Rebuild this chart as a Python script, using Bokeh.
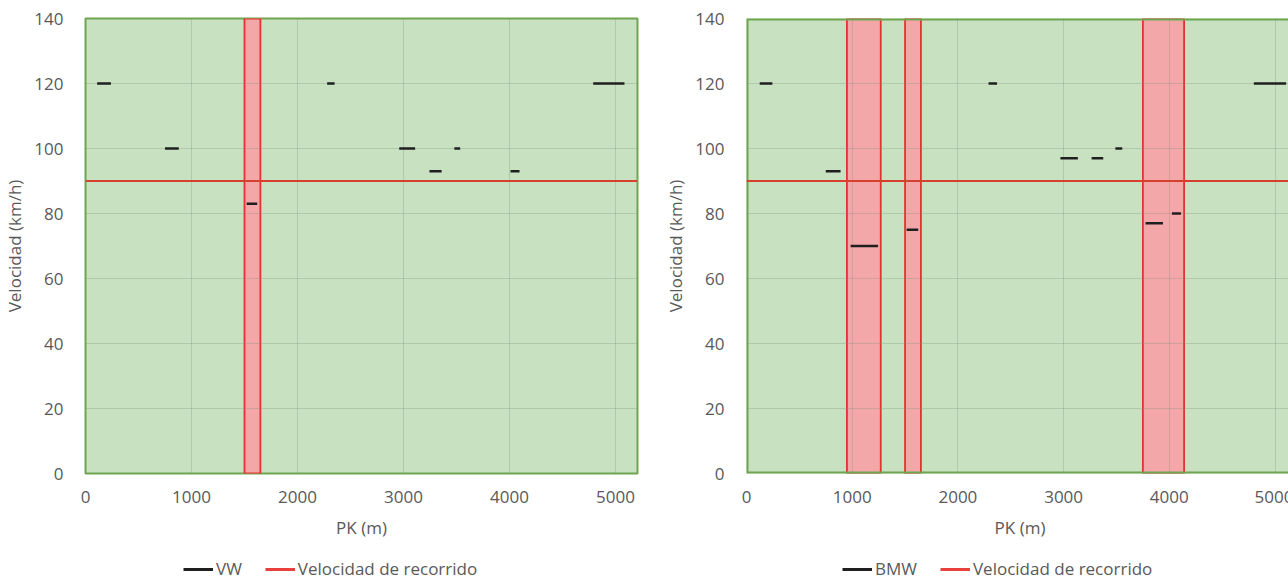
from bokeh.plotting import figure
from bokeh.layouts import row, column
from bokeh.models import Range1d, Legend, LegendItem, SingleIntervalTicker
from bokeh.embed import file_html
from bokeh.resources import INLINE

# ---------------- data ----------------
speed_limit = 90          # Velocidad de recorrido (km/h)
v_max = 140
x_ticks_step = 1000
y_ticks_step = 20

# VW segments: PK start, PK end (m), speed (km/h)
vw_x0 = [110, 750, 1520, 2280, 2960, 3245, 3480, 4010, 4790]
vw_x1 = [240, 880, 1620, 2350, 3110, 3360, 3535, 4095, 5085]
vw_v = [120, 100, 83, 120, 100, 93, 100, 93, 120]
# zones where VW is below the travel speed
vw_zone_start = [1500]
vw_zone_end = [1650]

# BMW segments
bmw_x0 = [125, 750, 985, 1515, 2290, 2970, 3265, 3490, 3775, 4025, 4800]
bmw_x1 = [245, 890, 1245, 1625, 2370, 3135, 3375, 3555, 3940, 4110, 5105]
bmw_v = [120, 93, 70, 75, 120, 97, 97, 100, 77, 80, 120]
bmw_zone_start = [950, 1500, 3750]
bmw_zone_end = [1270, 1650, 4140]

pk_end_left = 5208
pk_end_right = 5175   # right chart is cut by the image border
pk_box_end = 5208

GREEN_BG = "#c8e1c0"
GREEN_LINE = "#6fa552"
RED_FILL = "#f4a7a8"
RED_LINE = "#e5312f"
LIMIT_LINE = "#d5412c"
TXT = "#595959"
FONT = "Open Sans"


def make_fig(x0, x1, v, zs, ze, name, x_end, left_border, frame_w, right_border,
             cropped, legend_x):
    p = figure(frame_width=frame_w, frame_height=455,
               min_border_left=left_border, min_border_right=right_border,
               min_border_top=18, min_border_bottom=72,
               x_range=Range1d(0, x_end), y_range=Range1d(0, v_max),
               output_backend="svg", toolbar_location=None)
    p.background_fill_color = GREEN_BG
    p.border_fill_color = "white"
    if cropped:
        p.outline_line_color = None
    else:
        p.outline_line_color = GREEN_LINE
        p.outline_line_width = 2

    # red zones (below grid)
    p.quad(left=zs, right=ze, bottom=0, top=v_max, fill_color=RED_FILL,
           line_color=RED_LINE, line_width=1.8, level="image")
    if cropped:
        p.quad(left=0, right=pk_box_end, bottom=0, top=v_max, fill_color=None,
               line_color=GREEN_LINE, line_width=4, level="image")

    for g in (p.xgrid, p.ygrid):
        g.grid_line_color = "#7f8f7a"
        g.grid_line_alpha = 0.3
        g.grid_line_width = 1
    p.xaxis.ticker = SingleIntervalTicker(interval=x_ticks_step)
    p.yaxis.ticker = SingleIntervalTicker(interval=y_ticks_step)

    p.segment(x0=0, x1=pk_box_end, y0=speed_limit, y1=speed_limit,
              line_color=LIMIT_LINE, line_width=2.2)
    p.segment(x0=x0, x1=x1, y0=v, y1=v, line_color="#1f1f1f", line_width=2.6)

    for ax in (p.xaxis, p.yaxis):
        ax.axis_line_color = None
        ax.major_tick_line_color = None
        ax.minor_tick_line_color = None
        ax.major_label_text_font = FONT
        ax.major_label_text_font_size = "17px"
        ax.major_label_text_color = TXT
        ax.axis_label_text_font = FONT
        ax.axis_label_text_font_size = "17px"
        ax.axis_label_text_font_style = "normal"
        ax.axis_label_text_color = TXT
    p.xaxis.axis_label = "PK (m)"
    p.yaxis.axis_label = "Velocidad (km/h)"
    p.xaxis.major_label_standoff = 11
    p.xaxis.axis_label_standoff = 10
    p.yaxis.major_label_standoff = 16
    p.yaxis.axis_label_standoff = 5

    # legend strip below the chart (its frame is aligned with the chart frame)
    lf = figure(width=left_border + frame_w + right_border, height=35,
                x_range=Range1d(0, 1), y_range=Range1d(0, 1),
                min_border=0, x_axis_location=None, y_axis_location=None,
                output_backend="svg", toolbar_location=None)
    lf.outline_line_color = None
    lf.grid.visible = False
    # proxy renderers carrying the series data (they fall outside this strip's range)
    leg_black = lf.line(x=x0, y=v, line_color="#1f1f1f", line_width=3)
    leg_red = lf.line(x=[0, pk_box_end], y=[speed_limit, speed_limit],
                      line_color="#e8403c", line_width=3)
    legend = Legend(items=[LegendItem(label=name, renderers=[leg_black]),
                           LegendItem(label="Velocidad de recorrido", renderers=[leg_red])],
                    orientation="horizontal", location=(legend_x, 0),
                    glyph_width=30, glyph_height=16, label_standoff=3, spacing=23,
                    padding=0, margin=0, border_line_color=None,
                    background_fill_alpha=0,
                    label_text_font=FONT, label_text_font_size="17px",
                    label_text_color=TXT)
    lf.add_layout(legend, "center")
    return column(p, lf, spacing=0)


left = make_fig(vw_x0, vw_x1, vw_v, vw_zone_start, vw_zone_end, "VW",
                pk_end_left, 84, 552, 24, False, 98)
right = make_fig(bmw_x0, bmw_x1, bmw_v, bmw_zone_start, bmw_zone_end, "BMW",
                 pk_end_right, 81, 547, 0, True, 96)

layout = row(left, right, spacing=0)
open("out.html", "w").write(file_html(layout, INLINE))
